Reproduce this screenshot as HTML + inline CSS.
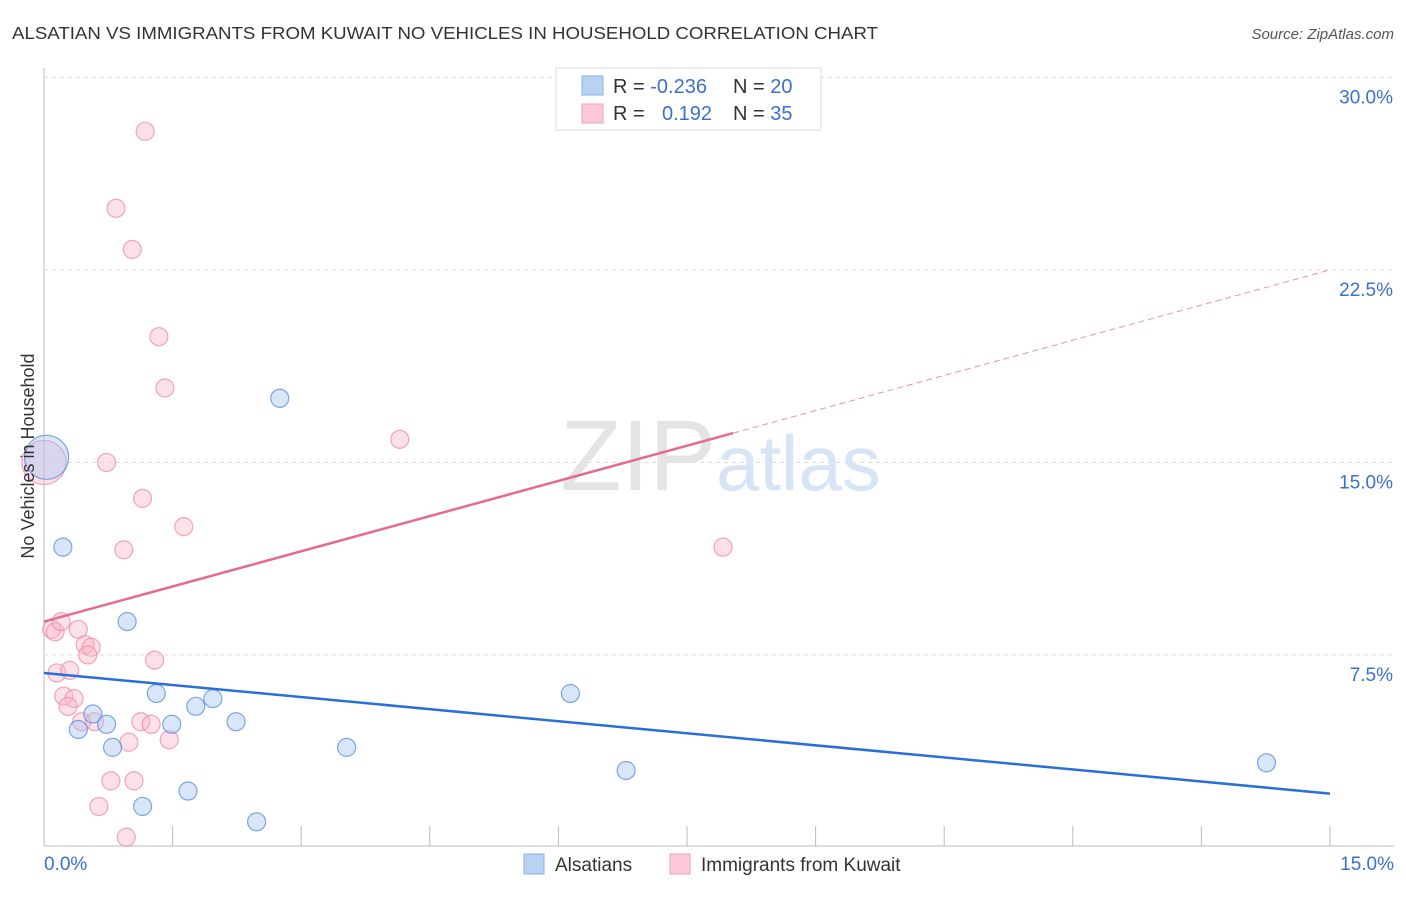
<!DOCTYPE html>
<html><head><meta charset="utf-8"><style>
body{margin:0;background:#fff;font-family:"Liberation Sans",sans-serif}
svg text{font-family:"Liberation Sans",sans-serif}
</style></head><body>
<svg id="chart" width="1406" height="892" viewBox="0 0 1406 892">
<text x="12" y="39" font-size="17.5" fill="#333" textLength="866" lengthAdjust="spacingAndGlyphs">ALSATIAN VS IMMIGRANTS FROM KUWAIT NO VEHICLES IN HOUSEHOLD CORRELATION CHART</text>
<text x="1394" y="39" font-size="15" fill="#555" font-style="italic" text-anchor="end">Source: ZipAtlas.com</text>
<g id="grid"></g>
<text x="716" y="490" font-size="100" fill="#e4e4e4" text-anchor="end" font-family="Liberation Serif">ZIP</text>
<text x="716" y="490" font-size="78" fill="#d6e4f5">atlas</text>
<g id="marks"></g>
<text transform="translate(34,456) rotate(-90)" font-size="18" fill="#333" text-anchor="middle">No Vehicles in Household</text>
<g>
<rect x="556" y="68" width="265" height="62" fill="#fff" stroke="#ddd"/>
<rect x="582" y="76" width="21" height="19" fill="#b8d2f4" stroke="#8ab0e6"/>
<rect x="582" y="104" width="21" height="19" fill="#fcc7d6" stroke="#f0a2b8"/>
<text x="613" y="93" font-size="20" fill="#333">R = <tspan fill="#3a70d0">-0.236</tspan></text>
<text x="733" y="93" font-size="20" fill="#333">N = <tspan fill="#3a70d0">20</tspan></text>
<text x="613" y="120" font-size="20" fill="#333">R = </text>
<text x="662" y="120" font-size="20" fill="#3a70d0">0.192</text>
<text x="733" y="120" font-size="20" fill="#333">N = <tspan fill="#3a70d0">35</tspan></text>
</g>
<g>
<rect x="524" y="854" width="20" height="20" fill="#b8d2f4" stroke="#8ab0e6"/>
<text x="555" y="871" font-size="19" fill="#333">Alsatians</text>
<rect x="670" y="854" width="20" height="20" fill="#fcc7d6" stroke="#f0a2b8"/>
<text x="701" y="871" font-size="19" fill="#333">Immigrants from Kuwait</text>
</g>
</svg>
<script>
const yTicks=[7.5,15,22.5,30];
const yTickLabels=["7.5%","15.0%","22.5%","30.0%"];
const xTickLabels=["0.0%","15.0%"];
const blueX=[0.03,0.22,0.97,1.31,1.97,1.77,0.57,0.73,1.49,2.24,0.40,0.80,3.53,2.75,6.14,6.79,14.26,1.68,1.15,2.48];
const blueY=[15.2,11.7,8.8,6.0,5.8,5.5,5.2,4.8,4.8,4.9,4.6,3.9,3.9,17.5,6.0,3.0,3.3,2.2,1.6,1.0];
const blueR=[22,9,9,9,9,9,9,9,9,9,9,9,9,9,9,9,9,9,9,9];
const pinkX=[1.18,0.84,1.03,1.34,1.41,4.15,0.73,0.0,1.15,1.63,0.93,7.92,0.09,0.13,0.20,0.40,0.48,0.55,0.51,1.29,0.15,0.30,0.23,0.35,0.28,0.44,0.59,1.13,1.25,1.46,0.99,0.78,1.05,0.64,0.96];
const pinkY=[27.9,24.9,23.3,19.9,17.9,15.9,15.0,15.0,13.6,12.5,11.6,11.7,8.5,8.4,8.8,8.5,7.9,7.8,7.5,7.3,6.8,6.9,5.9,5.8,5.5,4.9,4.9,4.9,4.8,4.2,4.1,2.6,2.6,1.6,0.4];
const pinkR=[9,9,9,9,9,9,9,22,9,9,9,9,9,9,9,9,9,9,9,9,9,9,9,9,9,9,9,9,9,9,9,9,9,9,9];
const blueTrend=[6.8,2.1];
const pinkTrend=[8.8,22.5]; const pinkSolidEnd=8.04;
const X=v=>44+v*85.73, Y=v=>847.5-v*25.67;
const NS="http://www.w3.org/2000/svg";
const grid=document.getElementById('grid'), marks=document.getElementById('marks'), svg=document.getElementById('chart');
function mk(tag,attrs,parent){const e=document.createElementNS(NS,tag);for(const k in attrs)e.setAttribute(k,attrs[k]);parent.appendChild(e);return e;}
let ax=mk('line',{x1:44,y1:68,x2:44,y2:846,stroke:'#bbb'},grid);


let bx=mk('line',{x1:44,y1:846,x2:1394,y2:846,stroke:'#bbb'},grid);


yTicks.forEach((t,i)=>{
 const g=mk('line',{x1:44,x2:1394,y1:Y(t),y2:Y(t),stroke:'#ddd','stroke-dasharray':'4,4'},grid);
 
 
 const l=mk('text',{x:1393,y:Y(t)+26,'font-size':19,fill:'#3a70d0','text-anchor':'end'},svg);
 l.textContent=yTickLabels[i];
 
 
});
for(let i=1;i<=10;i++){const xx=44+i*128.6;
 const t=mk('line',{x1:xx,x2:xx,y1:826,y2:846,stroke:'#bbb'},grid);
 
 }
xTickLabels.forEach((s,i)=>{const l=mk('text',{x:i?1394:44,y:870,'font-size':19,fill:'#3a70d0','text-anchor':i?'end':'start'},svg);
 l.textContent=s;
 
 });
function pts(xs,ys,rs,fill,stroke,name){xs.forEach((x,i)=>{const c=mk('circle',{cx:X(x),cy:Y(ys[i]),r:rs[i],fill:fill,stroke:stroke,'stroke-width':1.2},marks);
 
 });}
pts(pinkX,pinkY,pinkR,'rgba(250,180,200,0.4)','rgba(235,130,160,0.7)','point-kuwait');
pts(blueX,blueY,blueR,'rgba(170,200,240,0.45)','rgba(80,140,220,0.75)','point-alsatian');
let bl=mk('line',{x1:X(0),y1:Y(blueTrend[0]),x2:X(15),y2:Y(blueTrend[1]),stroke:'#2a6fd6','stroke-width':2.5},marks);


const py=x=>pinkTrend[0]+(pinkTrend[1]-pinkTrend[0])*x/15;
let pl=mk('line',{x1:X(0),y1:Y(py(0)),x2:X(pinkSolidEnd),y2:Y(py(pinkSolidEnd)),stroke:'#e46a92','stroke-width':2.5},marks);


let pd=mk('line',{x1:X(pinkSolidEnd),y1:Y(py(pinkSolidEnd)),x2:X(15),y2:Y(py(15)),stroke:'#e990ad','stroke-width':1,'stroke-dasharray':'6,4'},marks);


</script>
</body></html>
